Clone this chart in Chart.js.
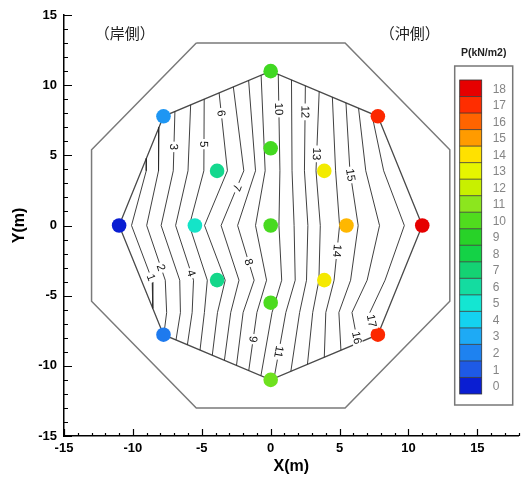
<!DOCTYPE html>
<html lang="ja">
<head>
<meta charset="utf-8">
<title>P(kN/m2) distribution</title>
<script src="https://cdn.jsdelivr.net/npm/chart.js@4.4.0/dist/chart.umd.min.js"></script>
<style>
  html, body { margin: 0; padding: 0; background: #fff; }
  #wrap { position: relative; width: 526px; height: 482px; }
</style>
</head>
<body>
<div id="wrap"><canvas id="chart"></canvas></div>
<script>
// Measurement points (m) and pressure P (kN/m2)
// first 8 = outer ring (counter-clockwise from +X), then inner ring, then centre
const pointX = [11, 7.78, 0, -7.78, -11, -7.78, 0, 7.78, 5.5, 3.89, 0, -3.89, -5.5, -3.89, 0, 3.89, 0];
const pointY = [0, 7.78, 11, 7.78, 0, -7.78, -11, -7.78, 0, 3.89, 5.5, 3.89, 0, -3.89, -5.5, -3.89, 0];
const pointP = [18, 17.1, 9.6, 2.5, 0, 1.8, 10.5, 17.1, 14.6, 13.5, 9.7, 6.4, 5.2, 6.5, 9.9, 13.6, 9.8];
const outerCount = 8;

// Structure outline (octagon)
const outlineX = [-5.4, 5.4, 13, 13, 5.4, -5.4, -13, -13, -5.4];
const outlineY = [13, 13, 5.4, -5.4, -13, -13, -5.4, 5.4, 13];

// Contour lines: x of each level at the rows of contourRowY (clipped to the outer ring)
const contourLevels = [1, 2, 3, 4, 5, 6, 7, 8, 9, 10, 11, 12, 13, 14, 15, 16, 17];
const contourRowY = [12, 3.9, 0, -3.9, -6.2, -12];
const contourX = [
  [-8.93, -9.03, -10.1, -8.6, -8.55, -9.5],
  [-8.05, -8.14, -9.0, -7.65, -7.55, -8.3],
  [-6.84, -7.07, -7.95, -6.6, -6.55, -7.5],
  [-5.67, -6.0, -6.9, -5.6, -5.7, -6.57],
  [-4.81, -4.85, -5.9, -4.6, -4.81, -5.5],
  [-4.02, -3.14, -4.8, -3.3, -3.86, -4.58],
  [-2.98, -1.95, -3.6, -2.3, -2.9, -3.68],
  [-1.73, -1.1, -2.4, -1.2, -2.0, -2.74],
  [-0.75, -0.4, -1.1, -0.3, -1.0, -1.83],
  [0.53, 0.67, 0.6, 0.8, 0.1, -0.94],
  [1.5, 1.55, 1.7, 1.78, 1.1, 0.04],
  [2.54, 2.45, 2.7, 2.6, 2.1, 1.22],
  [3.62, 3.29, 3.6, 3.5, 3.05, 2.45],
  [4.35, 4.71, 5.0, 4.6, 4.0, 3.8],
  [5.27, 5.75, 6.35, 5.8, 4.95, 5.27],
  [5.95, 6.9, 7.9, 7.0, 5.9, 7.02],
  [6.47, 8.2, 9.7, 8.3, 7.2, 8.37]
];

// Contour labels: which level, and at what y along that line
const labelLevels = [3, 5, 6, 7, 10, 12, 13, 15, 1, 2, 4, 8, 14, 9, 11, 16, 17];
const labelY = [5.6, 5.8, 8.0, 2.7, 8.3, 8.1, 5.1, 3.6, -3.7, -3.0, -3.4, -2.6, -1.8, -8.1, -9.0, -8.0, -6.8];

// Colour legend
const legendTitle = 'P(kN/m2)';
const legendLevels = [0, 1, 2, 3, 4, 5, 6, 7, 8, 9, 10, 11, 12, 13, 14, 15, 16, 17, 18];
const legendColors = ['#0a1ed2', '#1e5ae6', '#1e82f0', '#1eaaf5', '#14d2f0', '#14e6d2', '#14dca0',
  '#14d273', '#14d246', '#28d228', '#50dc1e', '#8ce61e', '#c8f000', '#e6f500', '#ffe100',
  '#ff9b00', '#ff6400', '#ff2d00', '#e60000'];

// Side captions
const sideLabels = ['（岸側）', '（沖側）'];
const sideLabelX = [-10.6, 10.1];
const sideLabelY = [13.7, 13.7];

const axisFont = '"Liberation Sans", Arial, sans-serif';

function hexToRgb(hex) {
    const n = parseInt(hex.slice(1), 16);
    return [(n >> 16) & 255, (n >> 8) & 255, n & 255];
}

// colour for a P value, blended between legend levels
function colorFor(p) {
    const i = Math.max(0, Math.min(legendLevels.length - 2, Math.floor(p)));
    const f = Math.max(0, Math.min(1, p - legendLevels[i]));
    const a = hexToRgb(legendColors[i]);
    const b = hexToRgb(legendColors[i + 1]);
    const c = a.map((v, k) => Math.round(v + (b[k] - v) * f));
    return `rgb(${c[0]},${c[1]},${c[2]})`;
}

// clip a segment to the convex outer ring (Cyrus-Beck)
function clipSegment(x0, y0, x1, y1) {
    const dx = x1 - x0, dy = y1 - y0;
    let tIn = 0, tOut = 1;
    for (let i = 0; i < outerCount; i++) {
        const j = (i + 1) % outerCount;
        const nx = -(pointY[j] - pointY[i]);
        const ny = pointX[j] - pointX[i];
        const num = nx * (x0 - pointX[i]) + ny * (y0 - pointY[i]);
        const den = nx * dx + ny * dy;
        if (den === 0) {
            if (num < 0) return null;
            continue;
        }
        const t = -num / den;
        if (den > 0) tIn = Math.max(tIn, t);
        else tOut = Math.min(tOut, t);
        if (tIn > tOut) return null;
    }
    return [{ x: x0 + tIn * dx, y: y0 + tIn * dy }, { x: x0 + tOut * dx, y: y0 + tOut * dy }];
}

function contourPoints(li) {
    const pts = [];
    for (let r = 0; r < contourRowY.length - 1; r++) {
        const seg = clipSegment(contourX[li][r], contourRowY[r], contourX[li][r + 1], contourRowY[r + 1]);
        if (!seg) continue;
        const last = pts[pts.length - 1];
        const joined = last && Math.abs(last.x - seg[0].x) < 1e-9 && Math.abs(last.y - seg[0].y) < 1e-9;
        if (last && !joined) pts.push({ x: NaN, y: NaN });
        if (!joined) pts.push(seg[0]);
        pts.push(seg[1]);
    }
    return pts;
}

// position and direction of a contour at a given y
function contourAt(li, y) {
    for (let r = 0; r < contourRowY.length - 1; r++) {
        const ya = contourRowY[r], yb = contourRowY[r + 1];
        if (y <= ya && y >= yb) {
            const f = (ya - y) / (ya - yb);
            const xa = contourX[li][r], xb = contourX[li][r + 1];
            return { x: xa + (xb - xa) * f, dx: xb - xa, dy: yb - ya };
        }
    }
    return null;
}

const datasets = [];

datasets.push({
    label: 'points',
    data: pointX.map((x, i) => ({ x, y: pointY[i] })),
    backgroundColor: pointP.map(colorFor),
    borderWidth: 0,
    pointRadius: 7.3,
    showLine: false,
    order: 0
});

contourLevels.forEach((lv, li) => {
    datasets.push({
        label: 'P=' + lv,
        data: contourPoints(li),
        showLine: true,
        spanGaps: false,
        borderColor: '#2a2a2a',
        borderWidth: 0.9,
        pointRadius: 0,
        order: 1
    });
});

// boundary of the measured area
const ring = pointX.slice(0, outerCount).map((x, i) => ({ x, y: pointY[i] }));
ring.push(ring[0]);
datasets.push({
    label: 'ring',
    data: ring,
    showLine: true,
    borderColor: '#4a4a4a',
    borderWidth: 1.3,
    pointRadius: 0,
    order: 2
});

datasets.push({
    label: 'outline',
    data: outlineX.map((x, i) => ({ x, y: outlineY[i] })),
    showLine: true,
    borderColor: '#7a7a7a',
    borderWidth: 1.5,
    pointRadius: 0,
    order: 3
});

// contour labels, side captions, inward ticks and the colour legend
const decorPlugin = {
    id: 'decor',
    afterDatasetsDraw(chart) {
        const ctx = chart.ctx;
        const xs = chart.scales.x, ys = chart.scales.y;
        const sx = Math.abs(xs.getPixelForValue(1) - xs.getPixelForValue(0));
        const sy = Math.abs(ys.getPixelForValue(1) - ys.getPixelForValue(0));

        ctx.save();
        ctx.font = `11.5px ${axisFont}`;
        ctx.textAlign = 'center';
        ctx.textBaseline = 'middle';
        labelLevels.forEach((lv, k) => {
            const li = contourLevels.indexOf(lv);
            const c = contourAt(li, labelY[k]);
            if (!c) return;
            const px = xs.getPixelForValue(c.x);
            const py = ys.getPixelForValue(labelY[k]);
            const ang = Math.atan2(-c.dy * sy, c.dx * sx);
            const txt = String(lv);
            const w = ctx.measureText(txt).width;
            ctx.save();
            ctx.translate(px, py);
            ctx.rotate(ang);
            ctx.fillStyle = '#fff';
            ctx.fillRect(-w / 2 - 2, -5, w + 4, 10);
            ctx.fillStyle = '#111';
            ctx.fillText(txt, 0, 0.5);
            ctx.restore();
        });

        ctx.font = `15px "Noto Sans CJK JP", sans-serif`;
        ctx.fillStyle = '#222';
        sideLabels.forEach((t, i) => {
            ctx.fillText(t, xs.getPixelForValue(sideLabelX[i]), ys.getPixelForValue(sideLabelY[i]));
        });
        ctx.restore();
    },
    afterDraw(chart) {
        const ctx = chart.ctx;
        const xs = chart.scales.x, ys = chart.scales.y;
        const area = chart.chartArea;

        // inward tick marks
        ctx.save();
        ctx.strokeStyle = '#000';
        ctx.lineWidth = 1.2;
        ctx.beginPath();
        ys.ticks.forEach(t => {
            const py = Math.round(ys.getPixelForValue(t.value)) + 0.5;
            const len = t.value % 5 === 0 ? 8 : 4;
            ctx.moveTo(area.left, py);
            ctx.lineTo(area.left + len, py);
        });
        xs.ticks.forEach(t => {
            const px = Math.round(xs.getPixelForValue(t.value)) + 0.5;
            const len = t.value % 5 === 0 ? 7 : 3;
            ctx.moveTo(px, area.bottom);
            ctx.lineTo(px, area.bottom - len);
        });
        ctx.stroke();

        // colour legend
        const boxL = area.right - 64, boxT = area.top + 51, boxW = 58, boxH = 339;
        const barL = boxL + 5, barT = boxT + 14, barW = 22, barH = 314;
        const cellH = barH / legendLevels.length;

        ctx.font = `bold 10.5px ${axisFont}`;
        ctx.fillStyle = '#222';
        ctx.textAlign = 'center';
        ctx.textBaseline = 'middle';
        ctx.fillText(legendTitle, boxL + boxW / 2, boxT - 13);

        ctx.fillStyle = '#fff';
        ctx.fillRect(boxL, boxT, boxW, boxH);
        ctx.strokeStyle = '#777';
        ctx.lineWidth = 1.5;
        ctx.strokeRect(boxL, boxT, boxW, boxH);

        ctx.font = `12px ${axisFont}`;
        ctx.textAlign = 'left';
        const n = legendLevels.length;
        legendLevels.forEach((lv, i) => {
            const top = barT + (n - 1 - i) * cellH;
            ctx.fillStyle = legendColors[i];
            ctx.fillRect(barL, top, barW, cellH);
            ctx.fillStyle = '#858585';
            ctx.fillText(String(lv), barL + barW + 11, top + cellH / 2 + 1);
        });
        ctx.strokeStyle = '#333';
        ctx.lineWidth = 0.8;
        ctx.beginPath();
        for (let i = 1; i < n; i++) {
            const y = barT + i * cellH;
            ctx.moveTo(barL, y);
            ctx.lineTo(barL + barW, y);
        }
        ctx.stroke();
        ctx.strokeRect(barL, barT, barW, barH);
        ctx.restore();
    }
};

const tickFont = { family: axisFont, size: 13, weight: 'bold' };

new Chart(document.getElementById('chart'), {
    type: 'scatter',
    data: { datasets },
    options: {
        responsive: true,
        maintainAspectRatio: false,
        animation: false,
        events: [],
        layout: { padding: { top: 15, right: 0, bottom: 0, left: 0 } },
        plugins: {
            legend: { display: false },
            tooltip: { enabled: false }
        },
        scales: {
            x: {
                type: 'linear',
                min: -15,
                max: 18,
                afterFit: s => { s.height = 46; },
                border: { display: true, color: '#000', width: 1.5 },
                grid: { display: true, drawOnChartArea: false, drawTicks: false },
                ticks: {
                    stepSize: 1,
                    autoSkip: false,
                    maxRotation: 0,
                    padding: 5,
                    color: '#000',
                    font: tickFont,
                    callback: v => (v % 5 === 0 && v <= 15 ? String(v) : '')
                },
                title: {
                    display: true,
                    text: 'X(m)',
                    color: '#000',
                    font: { family: axisFont, size: 16, weight: 'bold' },
                    padding: { top: 0, bottom: 6 }
                }
            },
            y: {
                type: 'linear',
                min: -15,
                max: 15,
                afterFit: s => { s.width = 64; },
                border: { display: true, color: '#000', width: 1.5 },
                grid: { display: true, drawOnChartArea: false, drawTicks: false },
                ticks: {
                    stepSize: 1,
                    autoSkip: false,
                    padding: 7,
                    color: '#000',
                    font: tickFont,
                    callback: v => (v % 5 === 0 ? String(v) : '')
                },
                title: {
                    display: true,
                    text: 'Y(m)',
                    color: '#000',
                    font: { family: axisFont, size: 16, weight: 'bold' },
                    padding: { top: 10, bottom: 0 }
                }
            }
        }
    },
    plugins: [decorPlugin]
});
</script>
</body>
</html>
